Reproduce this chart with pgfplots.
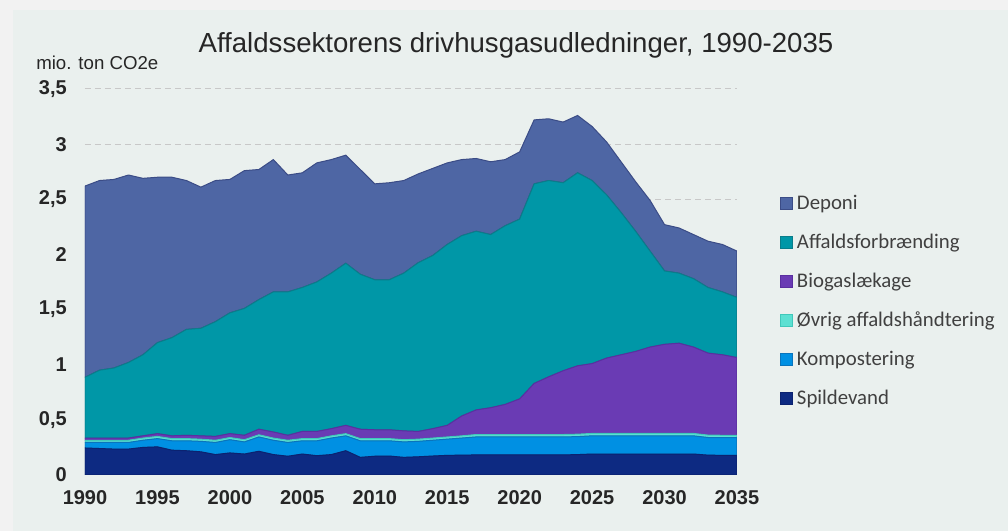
\documentclass[border=0pt]{standalone}
\usepackage{fontspec}
\setmainfont{Liberation Sans}
\newfontfamily\carlito{Carlito}
\usepackage{pgfplots}
\usepackage{pgfplotstable}
\pgfplotsset{compat=1.18}

\definecolor{outerbg}{HTML}{F2F2F2}
\definecolor{panelbg}{HTML}{EAF0EE}
\definecolor{gridgray}{HTML}{C8C8C8}
\definecolor{axisgray}{HTML}{C5CAD6}
\definecolor{txt}{HTML}{262626}
\definecolor{legtxt}{HTML}{404040}
% fill / outline per series
\definecolor{depfill}{HTML}{4E66A4}  \definecolor{depline}{HTML}{3B4C86}
\definecolor{affill}{HTML}{0097A7}   \definecolor{afline}{HTML}{0A7D8A}
\definecolor{biofill}{HTML}{6A3BB4}  \definecolor{bioline}{HTML}{5A2FA0}
\definecolor{ovfill}{HTML}{5CE0D2}   \definecolor{ovline}{HTML}{40C8BA}
\definecolor{komfill}{HTML}{0090E3}  \definecolor{komline}{HTML}{0A74BC}
\definecolor{spfill}{HTML}{0D2A82}   \definecolor{spline}{HTML}{0B2270}

% mio. ton CO2e per source
\pgfplotstableread{
year S     K     O     B     A     D
1990 0.245 0.050 0.020 0.020 0.551 1.734
1991 0.240 0.055 0.020 0.020 0.615 1.720
1992 0.235 0.060 0.020 0.020 0.635 1.710
1993 0.235 0.060 0.020 0.020 0.685 1.700
1994 0.250 0.065 0.020 0.020 0.735 1.600
1995 0.255 0.075 0.020 0.025 0.825 1.500
1996 0.225 0.085 0.020 0.025 0.890 1.455
1997 0.220 0.090 0.020 0.030 0.960 1.350
1998 0.210 0.095 0.020 0.030 0.975 1.280
1999 0.185 0.110 0.020 0.035 1.040 1.280
2000 0.200 0.120 0.020 0.035 1.095 1.210
2001 0.190 0.110 0.020 0.040 1.150 1.250
2002 0.215 0.130 0.020 0.050 1.175 1.180
2003 0.185 0.130 0.020 0.055 1.270 1.200
2004 0.170 0.125 0.020 0.045 1.300 1.060
2005 0.190 0.120 0.020 0.065 1.305 1.040
2006 0.175 0.135 0.020 0.065 1.355 1.080
2007 0.185 0.150 0.020 0.065 1.410 1.030
2008 0.220 0.135 0.020 0.075 1.470 0.980
2009 0.160 0.150 0.020 0.085 1.405 0.950
2010 0.170 0.140 0.020 0.080 1.360 0.870
2011 0.172 0.138 0.020 0.080 1.360 0.880
2012 0.160 0.140 0.020 0.080 1.430 0.840
2013 0.165 0.140 0.020 0.070 1.530 0.805
2014 0.172 0.143 0.020 0.085 1.570 0.790
2015 0.178 0.147 0.020 0.105 1.640 0.740
2016 0.180 0.155 0.020 0.180 1.635 0.690
2017 0.182 0.163 0.022 0.223 1.620 0.660
2018 0.182 0.163 0.022 0.243 1.570 0.660
2019 0.182 0.163 0.022 0.273 1.620 0.600
2020 0.182 0.163 0.022 0.323 1.630 0.610
2021 0.182 0.163 0.022 0.463 1.810 0.580
2022 0.182 0.163 0.022 0.523 1.780 0.560
2023 0.182 0.163 0.022 0.578 1.705 0.550
2024 0.185 0.163 0.022 0.620 1.750 0.520
2025 0.190 0.165 0.022 0.633 1.660 0.490
2026 0.190 0.165 0.022 0.683 1.480 0.480
2027 0.190 0.165 0.022 0.713 1.290 0.460
2028 0.190 0.165 0.022 0.743 1.090 0.450
2029 0.190 0.165 0.022 0.783 0.870 0.460
2030 0.190 0.165 0.022 0.808 0.665 0.420
2031 0.190 0.165 0.022 0.818 0.635 0.410
2032 0.190 0.165 0.022 0.783 0.620 0.400
2033 0.180 0.160 0.022 0.743 0.595 0.420
2034 0.178 0.160 0.022 0.730 0.570 0.430
2035 0.178 0.160 0.022 0.705 0.545 0.420
}\emissions

\begin{document}
\begin{tikzpicture}
  % canvas 1008 x 531 px, 1px = 0.75pt
  \useasboundingbox (0,0) rectangle (756pt,398.25pt);
  \fill[outerbg] (0,0) rectangle (756pt,398.25pt);
  \fill[panelbg] (9.75pt,0) rectangle (756pt,390.75pt);

  \node[anchor=center, text=txt, font=\fontsize{20.7}{24}\selectfont]
    at (387pt,364.5pt) {Affaldssektorens drivhusgasudledninger, 1990-2035};
  \node[anchor=west, inner sep=0pt, text=txt, font=\fontsize{14}{16}\selectfont]
    at (27pt,351pt) {mio. ton CO2e};

  \begin{axis}[
    at={(63.75pt,42pt)}, anchor=south west,
    scale only axis,
    width=489pt, height=289.5pt,
    xmin=1990, xmax=2035,
    ymin=0, ymax=3.5,
    xtick={1990,1995,...,2035},
    ytick={0,0.5,...,3.5},
    axis line style={draw=none},
    tick style={draw=none},
    ymajorgrids,
    grid style={gridgray, line width=0.75pt, dash pattern=on 4.5pt off 3pt},
    /pgf/number format/assume math mode=true,
    /pgf/number format/use comma,
    xticklabel style={/pgf/number format/1000 sep={}, inner sep=0pt, anchor=north, yshift=-11.25pt},
    yticklabel style={inner sep=0pt, anchor=east, xshift=-13.5pt},
    ticklabel style={font=\fontsize{15}{15}\selectfont\bfseries, text=txt},
    stack plots=y,
    every axis plot/.append style={mark=none, line width=0.75pt},
    legend image code/.code={\draw[#1, line width=0.75pt] (0pt,-4.5pt) rectangle (9pt,4.5pt);},
    reverse legend,
    legend cell align=left,
    legend style={at={(rel axis cs:1.0659,0.452)}, anchor=west,
      draw=none, fill=none, inner sep=0pt, outer sep=0pt,
      font=\carlito\fontsize{15.6}{18}\selectfont, text=legtxt,
      row sep=15.25pt,
      nodes={inner sep=0pt, text height=12pt, text depth=2pt},
      /tikz/every odd column/.append style={column sep=3pt}},
  ]
    \addplot[fill=spfill, draw=spline] table[x=year, y=S] {\emissions} \closedcycle;
    \addlegendentry{Spildevand}
    \addplot[fill=komfill, draw=komline] table[x=year, y=K] {\emissions} \closedcycle;
    \addlegendentry{Kompostering}
    \addplot[fill=ovfill, draw=ovline] table[x=year, y=O] {\emissions} \closedcycle;
    \addlegendentry{Øvrig affaldshåndtering}
    \addplot[fill=biofill, draw=bioline] table[x=year, y=B] {\emissions} \closedcycle;
    \addlegendentry{Biogaslækage}
    \addplot[fill=affill, draw=afline] table[x=year, y=A] {\emissions} \closedcycle;
    \addlegendentry{Affaldsforbrænding}
    \addplot[fill=depfill, draw=depline] table[x=year, y=D] {\emissions} \closedcycle;
    \addlegendentry{Deponi}

    \draw[axisgray, line width=1.5pt] (rel axis cs:0,0) -- (rel axis cs:1,0);
  \end{axis}
\end{tikzpicture}
\end{document}
